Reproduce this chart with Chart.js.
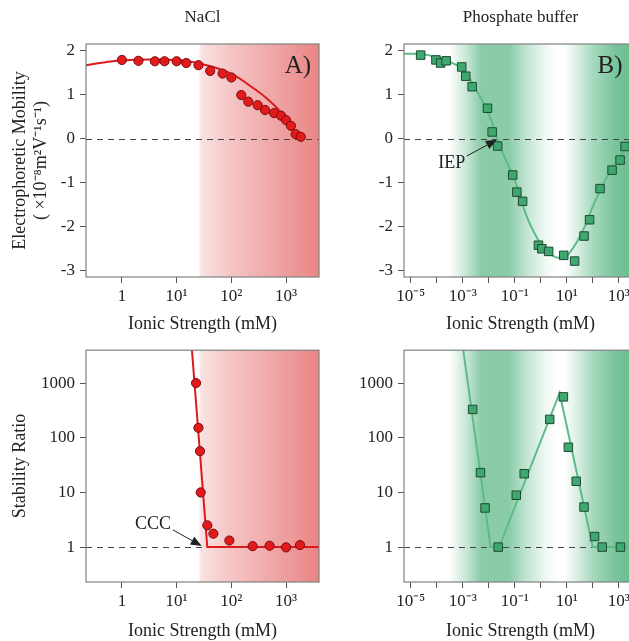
<!DOCTYPE html>
<html>
<head>
<meta charset="utf-8">
<script src="https://cdn.jsdelivr.net/npm/chart.js@4.4.1/dist/chart.umd.min.js"></script>
<style>
    html, body { margin: 0; padding: 0; background: #fff; overflow: hidden; width: 629px; height: 641px; }
    canvas { position: absolute; }
</style>
</head>
<body>
<canvas id="nacl-mobility" width="330" height="340" style="left:0;top:0"></canvas>
<canvas id="phos-mobility" width="340" height="340" style="left:318px;top:0"></canvas>
<canvas id="nacl-stability" width="330" height="320" style="left:0;top:335px"></canvas>
<canvas id="phos-stability" width="340" height="320" style="left:318px;top:335px"></canvas>
<script>
// NaCl, electrophoretic mobility
const naclX = [1, 2, 4, 6, 10, 15, 25, 41, 69, 100, 152, 204, 302, 413, 603, 812, 1000, 1226, 1500, 1860];
const naclMobility = [1.79, 1.77, 1.76, 1.76, 1.76, 1.72, 1.67, 1.54, 1.48, 1.39, 0.99, 0.84, 0.76, 0.65, 0.58, 0.52, 0.42, 0.29, 0.10, 0.04];
const naclFitX = [0.22, 0.5, 1, 3, 10, 20, 30, 55, 110, 250, 440, 780, 1180, 1800, 1950];
const naclFitY = [1.67, 1.74, 1.78, 1.80, 1.79, 1.74, 1.69, 1.60, 1.45, 1.15, 0.92, 0.62, 0.31, 0.00, -0.03];

// phosphate buffer, electrophoretic mobility
const phosX = [2.4e-5, 9.3e-5, 1.4e-4, 2.3e-4, 9.1e-4, 1.3e-3, 2.3e-3, 8.9e-3, 1.35e-2, 2.2e-2, 0.083, 0.12, 0.20, 0.81, 1.1, 2.0, 7.6, 20, 46, 75, 190, 550, 1120, 1740];
const phosMobility = [1.90, 1.79, 1.72, 1.77, 1.63, 1.42, 1.18, 0.69, 0.15, -0.17, -0.83, -1.22, -1.43, -2.43, -2.51, -2.57, -2.66, -2.79, -2.22, -1.85, -1.14, -0.72, -0.49, -0.18];
const phosFitX = [5.5e-6, 3e-5, 1e-4, 3e-4, 1e-3, 3e-3, 1e-2, 2e-2, 3e-2, 0.1, 0.3, 1, 3, 8, 15, 40, 100, 300, 1000, 2500, 5000];
const phosFitY = [1.93, 1.92, 1.85, 1.75, 1.58, 1.15, 0.55, 0.05, -0.25, -0.95, -1.80, -2.40, -2.68, -2.70, -2.55, -2.12, -1.55, -0.95, -0.45, -0.10, 0.15];

// NaCl, stability ratio
const naclStabX = [22.6, 25, 26.7, 27.5, 36.4, 46.9, 92, 245, 500, 1000, 1800];
const naclStability = [1000, 152, 57, 10, 2.5, 1.76, 1.32, 1.04, 1.06, 0.99, 1.09];
const naclStabFitX = [18.7, 36.3, 4000];
const naclStabFitY = [5000, 1, 1];

// phosphate buffer, stability ratio
const phosStabX = [2.4e-3, 4.8e-3, 7.2e-3, 0.023, 0.114, 0.23, 2.2, 7.4, 11.5, 23, 46, 117, 230, 1150];
const phosStability = [330, 23, 5.2, 1.0, 8.9, 22, 217, 560, 67, 16, 5.4, 1.56, 1.0, 1.0];
const phosStabFitX = [9.8e-4, 0.0118, 0.025, 5.3, 100, 5000];
const phosStabFitY = [5000, 1, 1, 660, 1, 1];

// ticks
const naclTicks = [1, 10, 100, 1000];
const phosTicks = [1e-5, 1e-4, 1e-3, 1e-2, 1e-1, 1, 10, 100, 1000];
const mobilityTicks = [2, 1, 0, -1, -2, -3];
const stabilityTicks = [1, 10, 100, 1000];

const serif = '"Liberation Serif", "Times New Roman", serif';
const ink = '#222';
const sup = {'-': '⁻', '0': '⁰', '1': '¹', '2': '²', '3': '³', '4': '⁴', '5': '⁵', '6': '⁶', '7': '⁷', '8': '⁸', '9': '⁹'};

function pairs(xs, ys) {
    return xs.map((x, i) => ({x: x, y: ys[i]}));
}

function powerLabel(v) {
    const e = Math.round(Math.log10(v));
    if (e === 0) return '1';
    return '10' + String(e).split('').map(c => sup[c]).join('');
}

function oddPowerLabel(v) {
    const e = Math.round(Math.log10(v));
    return Math.abs(e) % 2 === 1 ? powerLabel(v) : '';
}

function arrow(ctx, x1, y1, x2, y2) {
    const a = Math.atan2(y2 - y1, x2 - x1);
    const len = 11, half = 4.5;
    ctx.beginPath();
    ctx.moveTo(x1, y1);
    ctx.lineTo(x2 - len * Math.cos(a), y2 - len * Math.sin(a));
    ctx.stroke();
    ctx.beginPath();
    ctx.moveTo(x2, y2);
    ctx.lineTo(x2 - len * Math.cos(a) + half * Math.sin(a), y2 - len * Math.sin(a) - half * Math.cos(a));
    ctx.lineTo(x2 - len * Math.cos(a) - half * Math.sin(a), y2 - len * Math.sin(a) + half * Math.cos(a));
    ctx.closePath();
    ctx.fill();
}

// shading, reference line, frame and labels of each panel
const panelPlugin = {
    id: 'panel',
    beforeDatasetsDraw(chart, args, opts) {
        const {ctx, chartArea: a, scales: {x, y}} = chart;
        ctx.save();
        if (opts.shade) {
            const g = ctx.createLinearGradient(a.left, 0, a.right, 0);
            opts.shade.stops.forEach(([v, alpha]) => {
                let t = (x.getPixelForValue(v) - a.left) / (a.right - a.left);
                t = Math.min(1, Math.max(0, t));
                g.addColorStop(t, 'rgba(' + opts.shade.rgb + ',' + alpha + ')');
            });
            ctx.fillStyle = g;
            ctx.fillRect(a.left, a.top, a.width, a.height);
        }
        const ry = Math.round(y.getPixelForValue(opts.refY)) + 0.5;
        ctx.strokeStyle = '#444';
        ctx.lineWidth = 1;
        ctx.setLineDash([6, 5]);
        ctx.beginPath();
        ctx.moveTo(a.left, ry);
        ctx.lineTo(a.right, ry);
        ctx.stroke();
        ctx.restore();
    },
    afterDraw(chart, args, opts) {
        const {ctx, chartArea: a, scales: {x, y}} = chart;
        ctx.save();
        ctx.strokeStyle = '#808080';
        ctx.lineWidth = 1.2;
        ctx.strokeRect(a.left, a.top, a.width, a.height);
        ctx.fillStyle = ink;
        ctx.textAlign = 'center';
        ctx.textBaseline = 'middle';
        if (opts.title) {
            ctx.font = '17px ' + serif;
            ctx.fillText(opts.title, (a.left + a.right) / 2, opts.titleY);
        }
        if (opts.letter) {
            ctx.font = '25px ' + serif;
            ctx.fillText(opts.letter, a.right - opts.letterDx, a.top + 22);
        }
        if (opts.note) {
            const n = opts.note;
            ctx.font = '18px ' + serif;
            ctx.fillText(n.text, x.getPixelForValue(n.at[0]), y.getPixelForValue(n.at[1]));
            ctx.strokeStyle = ink;
            ctx.lineWidth = 1;
            arrow(ctx, x.getPixelForValue(n.from[0]), y.getPixelForValue(n.from[1]),
                x.getPixelForValue(n.to[0]), y.getPixelForValue(n.to[1]));
        }
        ctx.restore();
    }
};

function panelOptions(cfg) {
    return {
        responsive: false,
        animation: false,
        layout: {padding: cfg.padding},
        plugins: {
            legend: {display: false},
            tooltip: {enabled: false},
            panel: cfg.panel
        },
        scales: {
            x: {
                type: 'logarithmic',
                min: cfg.xMin,
                max: cfg.xMax,
                bounds: 'data',
                afterBuildTicks: s => { s.ticks = cfg.xTicks.map(v => ({value: v})); },
                afterFit: s => { s.height = cfg.xHeight; },
                border: {display: false},
                grid: {drawOnChartArea: false, tickLength: 6, tickColor: '#555'},
                ticks: {autoSkip: false, maxRotation: 0, padding: 3, color: ink, font: {family: serif, size: 17}, callback: cfg.xLabel},
                title: {display: true, text: 'Ionic Strength (mM)', color: ink, font: {family: serif, size: 18}, padding: {top: 0, bottom: cfg.xTitlePad}}
            },
            y: {
                type: cfg.yType,
                min: cfg.yMin,
                max: cfg.yMax,
                bounds: 'data',
                afterBuildTicks: s => { s.ticks = cfg.yTicks.map(v => ({value: v})); },
                afterFit: s => { s.width = 86; },
                border: {display: false},
                grid: {drawOnChartArea: false, tickLength: 6, tickColor: '#555'},
                ticks: {padding: 5, color: ink, font: {family: serif, size: 17}, callback: v => String(v)},
                title: {display: !!cfg.yTitle, text: cfg.yTitle, color: ink, font: {family: serif, size: 18}, padding: {top: 9, bottom: 0}}
            }
        }
    };
}

const red = {point: '#e31a1c', edge: '#7a0c0c', line: '#dc1a1c'};
const green = {point: '#3fa86e', edge: '#1d4a33', line: '#5dba8a'};

function datasets(px, py, fx, fy, c, square, smooth) {
    return [{
        data: pairs(px, py),
        pointStyle: square ? 'rect' : 'circle',
        pointRadius: square ? 6 : 4.6,
        pointBackgroundColor: c.point,
        pointBorderColor: c.edge,
        pointBorderWidth: 1,
        order: 0
    }, {
        data: pairs(fx, fy),
        showLine: true,
        pointRadius: 0,
        borderColor: c.line,
        borderWidth: 2,
        tension: smooth ? 0.4 : 0,
        order: 1
    }];
}

const redShade = {rgb: '220,60,60', stops: [[25, 0], [28, 0.15], [100, 0.3], [1000, 0.5], [4000, 0.63]]};
const greenShade = {rgb: '60,170,110', stops: [[3e-4, 0], [1.5e-3, 0.3], [5e-3, 0.6], [0.06, 0.6], [0.3, 0.3], [1.5, 0.08], [4, 0], [8, 0], [20, 0.15], [100, 0.45], [800, 0.7], [5000, 0.78]]};

new Chart(document.getElementById('nacl-mobility'), {
    type: 'scatter',
    data: {datasets: datasets(naclX, naclMobility, naclFitX, naclFitY, red, false, true)},
    options: panelOptions({
        padding: {left: 0, top: 44, right: 11, bottom: 0},
        xMin: 0.22, xMax: 4000, xTicks: naclTicks, xLabel: powerLabel, xHeight: 63, xTitlePad: 5,
        yType: 'linear', yMin: -3.153, yMax: 2.153, yTicks: mobilityTicks,
        yTitle: ['Electrophoretic Mobility', '( ×10⁻⁸m²V⁻¹s⁻¹)'],
        panel: {shade: redShade, refY: 0, title: 'NaCl', titleY: 18, letter: 'A)', letterDx: 21}
    }),
    plugins: [panelPlugin]
});

new Chart(document.getElementById('phos-mobility'), {
    type: 'scatter',
    data: {datasets: datasets(phosX, phosMobility, phosFitX, phosFitY, green, true, true)},
    options: panelOptions({
        padding: {left: 0, top: 44, right: 21, bottom: 0},
        xMin: 5.5e-6, xMax: 5000, xTicks: phosTicks, xLabel: oddPowerLabel, xHeight: 63, xTitlePad: 5,
        yType: 'linear', yMin: -3.153, yMax: 2.153, yTicks: mobilityTicks,
        panel: {
            shade: greenShade, refY: 0, title: 'Phosphate buffer', titleY: 18, letter: 'B)', letterDx: 27,
            note: {text: 'IEP', at: [3.8e-4, -0.56], from: [1.4e-3, -0.40], to: [0.0204, -0.03]}
        }
    }),
    plugins: [panelPlugin]
});

new Chart(document.getElementById('nacl-stability'), {
    type: 'scatter',
    data: {datasets: datasets(naclStabX, naclStability, naclStabFitX, naclStabFitY, red, false, false)},
    options: panelOptions({
        padding: {left: 0, top: 15, right: 11, bottom: 0},
        xMin: 0.22, xMax: 4000, xTicks: naclTicks, xLabel: powerLabel, xHeight: 73, xTitlePad: 13,
        yType: 'logarithmic', yMin: 0.23, yMax: 4000, yTicks: stabilityTicks,
        yTitle: 'Stability Ratio',
        panel: {
            shade: redShade, refY: 1,
            note: {text: 'CCC', at: [3.7, 2.66], from: [8.5, 2.07], to: [28.7, 1.05]}
        }
    }),
    plugins: [panelPlugin]
});

new Chart(document.getElementById('phos-stability'), {
    type: 'scatter',
    data: {datasets: datasets(phosStabX, phosStability, phosStabFitX, phosStabFitY, green, true, false)},
    options: panelOptions({
        padding: {left: 0, top: 15, right: 21, bottom: 0},
        xMin: 5.5e-6, xMax: 5000, xTicks: phosTicks, xLabel: oddPowerLabel, xHeight: 73, xTitlePad: 13,
        yType: 'logarithmic', yMin: 0.23, yMax: 4000, yTicks: stabilityTicks,
        panel: {shade: greenShade, refY: 1}
    }),
    plugins: [panelPlugin]
});
</script>
</body>
</html>
